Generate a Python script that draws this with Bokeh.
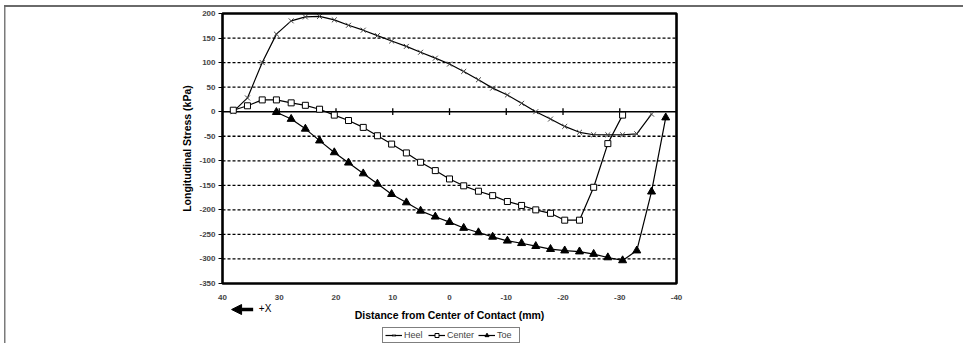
import math
from bokeh.plotting import figure
from bokeh.models import (Range1d, FixedTicker, Legend, LegendItem, Arrow, NormalHead, Label)
from bokeh.embed import file_html
from bokeh.resources import INLINE

# ---- data (mm from center of contact, stress in kPa) ----
x_pos = [38.1, 35.6, 33.0, 30.5, 27.9, 25.4, 22.9, 20.3, 17.8, 15.2, 12.7, 10.2, 7.6, 5.1, 2.5, 0.0,
         -2.5, -5.1, -7.6, -10.2, -12.7, -15.2, -17.8, -20.3, -22.9, -25.4, -27.9, -30.5, -33.0,
         -35.6, -38.1]

heel_x = x_pos[0:30]
heel = [0, 28, 100, 158, 185, 193, 194, 187, 176, 166, 155, 144, 133, 121, 109, 97,
        82, 65, 48, 34, 17, 0, -15, -30, -42, -47, -47, -47, -45, -5]

center_x = x_pos[0:28]
center = [3, 12, 24, 24, 18, 13, 5, -7, -18, -32, -49, -66, -84, -103, -120, -137,
          -151, -162, -171, -183, -191, -200, -207, -221, -221, -154, -65, -7]

toe_x = x_pos[3:31]
toe = [-1, -15, -35, -59, -83, -104, -126, -147, -168, -185, -202, -214, -225,
       -237, -246, -255, -263, -268, -274, -280, -283, -285, -290, -297, -303, -283, -163, -12]

x_ticks = [40, 30, 20, 10, 0, -10, -20, -30, -40]
y_ticks = [200, 150, 100, 50, 0, -50, -100, -150, -200, -250, -300, -350]
grid_ticks = [150, 100, 50, -50, -100, -150, -200, -250, -300]
zero_ticks = [30, 20, 10, 0, -10, -20, -30]
X_MIN, X_MAX = 40, -40
Y_MIN, Y_MAX = -350, 200

FONT = "Liberation Sans"

# the drawing area spans the whole canvas; the chart box is drawn inside it
p = figure(width=963, height=343, x_range=Range1d(79.12, -90.57), y_range=Range1d(-472.2, 226.48),
           output_backend="svg", toolbar_location=None,
           min_border_left=0, min_border_right=0, min_border_top=0, min_border_bottom=0)
p.background_fill_alpha = 0
p.border_fill_alpha = 0
p.outline_line_color = None
# faint scan frame of the original page (page background)
p.styles = {"background": "linear-gradient(#6a6a6a,#6a6a6a) 4px 5px / 959px 2px no-repeat, "
                          "linear-gradient(#7a7a7a,#7a7a7a) 4px 5px / 1.5px 338px no-repeat, white"}

# x axis fixed at the bottom of the box
p.xaxis.fixed_location = Y_MIN
p.xaxis.bounds = (X_MAX, X_MIN)
p.xaxis.ticker = FixedTicker(ticks=x_ticks)
p.xaxis.major_label_overrides = {t: str(t) for t in x_ticks}
p.xaxis.axis_line_color = None
p.xaxis.major_tick_line_color = None
p.xaxis.minor_tick_line_color = None
p.xaxis.major_label_standoff = 5
p.xaxis.major_label_text_font = FONT
p.xaxis.major_label_text_font_style = "bold"
p.xaxis.major_label_text_font_size = "8px"

# y axis fixed at the left side of the box
p.yaxis.fixed_location = X_MIN
p.yaxis.bounds = (Y_MIN, Y_MAX)
p.yaxis.ticker = FixedTicker(ticks=y_ticks)
p.yaxis.major_label_overrides = {t: str(t) for t in y_ticks}
p.yaxis.axis_line_color = None
p.yaxis.major_tick_in = 0
p.yaxis.major_tick_out = 4
p.yaxis.major_tick_line_width = 1
p.yaxis.minor_tick_line_color = None
p.yaxis.major_label_standoff = 3
p.yaxis.major_label_text_font = FONT
p.yaxis.major_label_text_font_style = "bold"
p.yaxis.major_label_text_font_size = "8px"

# axis titles
p.add_layout(Label(x=(X_MIN + X_MAX) / 2, y=-414, text="Distance from Center of Contact (mm)",
                   text_font=FONT, text_font_style="bold", text_font_size="10.5px",
                   text_align="center", text_baseline="middle", text_color="black"))
p.add_layout(Label(x=46.2, y=(Y_MIN + Y_MAX) / 2, text="Longitudinal Stress (kPa)", angle=math.pi / 2,
                   text_font=FONT, text_font_style="bold", text_font_size="10.5px",
                   text_align="center", text_baseline="middle", text_color="black"))

# dotted horizontal grid inside the box
p.xgrid.visible = False
p.ygrid.visible = False
p.segment(x0=[X_MIN] * len(grid_ticks), x1=[X_MAX] * len(grid_ticks), y0=grid_ticks, y1=grid_ticks,
          line_color="black", line_width=1.3, line_dash="3 2")

# zero axis with crossing ticks
p.segment(x0=[X_MIN], x1=[X_MAX], y0=[0], y1=[0], line_color="black", line_width=1.5)
p.segment(x0=zero_ticks, x1=zero_ticks, y0=[-7] * len(zero_ticks), y1=[7] * len(zero_ticks),
          line_color="black", line_width=1.3)

# series
l_heel = p.line(heel_x, heel, line_color="black", line_width=1.2)
m_heel = p.scatter(heel_x, heel, marker="x", size=7, line_color="#444444", line_width=1)
l_center = p.line(center_x, center, line_color="black", line_width=1.2)
m_center = p.scatter(center_x, center, marker="square", size=6, fill_color="white",
                     line_color="black", line_width=1)
l_toe = p.line(toe_x, toe, line_color="black", line_width=1.2)
m_toe = p.scatter(toe_x, toe, marker="triangle", size=8, fill_color="black", line_color="black")

# thick chart box
p.quad(left=[X_MIN], right=[X_MAX], top=[Y_MAX], bottom=[Y_MIN], fill_alpha=0,
       line_color="black", line_width=2.6)

legend = Legend(items=[LegendItem(label="Heel", renderers=[l_heel, m_heel]),
                       LegendItem(label="Center", renderers=[l_center, m_center]),
                       LegendItem(label="Toe", renderers=[l_toe, m_toe])],
                orientation="horizontal", location=(382, 0),
                label_text_font=FONT, label_text_font_size="9px",
                glyph_width=17, glyph_height=10, label_height=10, label_standoff=2,
                spacing=4, padding=2, margin=0,
                border_line_color="black", border_line_width=1,
                background_fill_color="white", background_fill_alpha=1)
p.add_layout(legend)

# +X direction arrow
p.add_layout(Arrow(end=NormalHead(size=10, fill_color="black", line_color="black"),
                   x_start=34.6, y_start=-403, x_end=38.4, y_end=-403,
                   line_color="black", line_width=3.5))
p.add_layout(Label(x=33.6, y=-400, text="+X", text_font=FONT, text_font_size="10px",
                   text_baseline="middle", text_align="left", text_color="black"))

open("out.html", "w").write(file_html(p, INLINE))
